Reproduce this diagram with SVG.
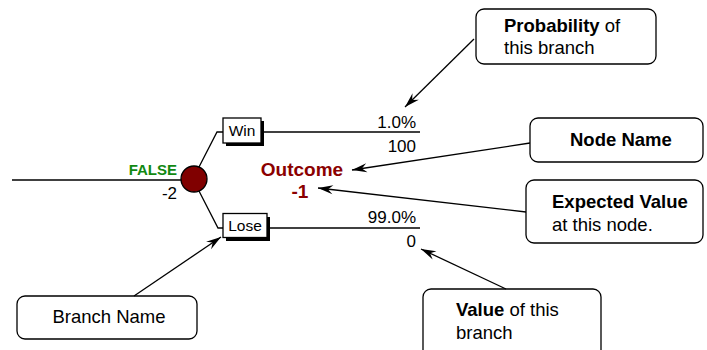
<svg xmlns="http://www.w3.org/2000/svg" width="707" height="350" viewBox="0 0 707 350">
  <style>
    text { font-family: "Liberation Sans", Arial, sans-serif; fill: #000; }
    .tree { fill: none; stroke: #000; stroke-width: 1.3; }
    .lbl { font-size: 15.5px; }
    .num { font-size: 17px; text-anchor: end; }
    .callout { fill: #fff; stroke: #000; stroke-width: 1.3; }
    .note { font-size: 18.5px; }
    .b { font-weight: bold; }
    .conn { fill: none; stroke: #000; stroke-width: 1.3; marker-end: url(#arrow); }
  </style>
  <defs>
    <marker id="arrow" markerUnits="userSpaceOnUse" markerWidth="20" markerHeight="12" viewBox="-16 -6 18 12" refX="0" refY="0" orient="auto">
      <path d="M0,0 L-15,-4.5 L-10,0 L-15,4.5 Z" fill="#000"/>
    </marker>
  </defs>

  <!-- decision tree -->
  <g id="tree-lines">
    <path class="tree" d="M12,180 H182"/>
    <path class="tree" d="M199,167 L217,132 H223"/>
    <path class="tree" d="M199,191 L218,228 H223"/>
    <path class="tree" d="M264,132 H420"/>
    <path class="tree" d="M270,228 H420"/>
  </g>

  <g id="chance-node">
    <circle cx="194" cy="179" r="13" fill="#800000" stroke="#000" stroke-width="1.3"/>
    <text x="177" y="175" text-anchor="end" class="b" font-size="15" style="fill:#118811">FALSE</text>
    <text x="177" y="199" text-anchor="end" font-size="17">-2</text>
  </g>

  <g id="outcome">
    <text x="302" y="176" text-anchor="middle" class="b" font-size="19" style="fill:#8b0000">Outcome</text>
    <text x="300" y="198" text-anchor="middle" class="b" font-size="19" style="fill:#8b0000">-1</text>
  </g>

  <g id="branch-win">
    <rect x="226" y="121" width="38" height="25" fill="#000"/>
    <rect x="223" y="118" width="38" height="25" fill="#fff" stroke="#000" stroke-width="1.3"/>
    <text x="242" y="135.5" text-anchor="middle" class="lbl">Win</text>
    <text x="416" y="128" class="num">1.0%</text>
    <text x="416" y="152" class="num">100</text>
  </g>

  <g id="branch-lose">
    <rect x="226" y="217" width="44" height="24" fill="#000"/>
    <rect x="223" y="213.5" width="44" height="24" fill="#fff" stroke="#000" stroke-width="1.3"/>
    <text x="245" y="231" text-anchor="middle" class="lbl">Lose</text>
    <text x="416" y="223" class="num">99.0%</text>
    <text x="416" y="247" class="num">0</text>
  </g>

  <!-- annotation callouts -->
  <g id="note-probability">
    <rect class="callout" x="476" y="9" width="180" height="55" rx="8"/>
    <text x="504" y="32" class="note"><tspan class="b">Probability</tspan> of</text>
    <text x="504" y="54" class="note">this branch</text>
  </g>

  <g id="note-node-name">
    <rect class="callout" x="530" y="118" width="173" height="44" rx="8"/>
    <text x="570" y="146" class="note b">Node Name</text>
  </g>

  <g id="note-expected-value">
    <rect class="callout" x="526" y="180" width="177" height="63" rx="8"/>
    <text x="552" y="208" class="note b">Expected Value</text>
    <text x="552" y="231" class="note">at this node.</text>
  </g>

  <g id="note-value">
    <rect class="callout" x="423" y="289" width="178" height="70" rx="8"/>
    <text x="456" y="316" class="note"><tspan class="b">Value</tspan> of this</text>
    <text x="456" y="339" class="note">branch</text>
  </g>

  <g id="note-branch-name">
    <rect class="callout" x="17" y="296" width="180" height="43" rx="8"/>
    <text x="109" y="323" text-anchor="middle" class="note">Branch Name</text>
  </g>

  <!-- callout pointers -->
  <g id="connectors">
    <path class="conn" d="M474,39 L405,107"/>
    <path class="conn" d="M530,143 L352,170"/>
    <path class="conn" d="M526,212 L318,188"/>
    <path class="conn" d="M506,289 L421,249"/>
    <path class="conn" d="M134,296 L221,237"/>
  </g>
</svg>
